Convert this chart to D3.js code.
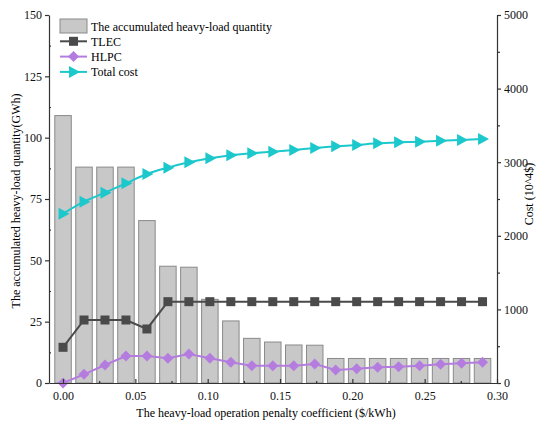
<!DOCTYPE html>
<html>
<head>
<meta charset="utf-8">
<script src="https://cdn.jsdelivr.net/npm/d3@7"></script>
<style>
  body { margin: 0; background: #fff; }
  text { font-family: "Liberation Serif", "Times New Roman", serif; }
</style>
</head>
<body>
<div id="chart"></div>
<script>
var width = 540
var height = 424

// penalty coefficient ($/kWh) of each case
var coef = [0, 0.0145, 0.029, 0.0435, 0.058, 0.0725, 0.087, 0.1015, 0.116, 0.1305, 0.145,
            0.1595, 0.174, 0.1885, 0.203, 0.2175, 0.232, 0.2465, 0.261, 0.2755, 0.29]
// accumulated heavy-load quantity (GWh)
var heavyLoad = [109, 88, 88, 88, 66.2, 47.6, 47.2, 34.1, 25.3, 18.2, 16.7,
                 15.5, 15.4, 10, 10, 10, 10, 10, 10, 10, 10]
// costs (10^4$)
var tlec = [485, 856, 856, 856, 734, 1105, 1105, 1105, 1105, 1105, 1105,
            1105, 1105, 1105, 1105, 1105, 1105, 1105, 1105, 1105, 1105]
var hlpc = [0, 118, 245, 367, 367, 335, 394, 335, 281, 236, 236,
            236, 258, 177, 195, 213, 222, 236, 254, 267, 281]
var totalCost = [2300, 2464, 2586, 2713, 2840, 2926, 2998, 3053, 3094, 3121, 3143,
                 3166, 3193, 3216, 3234, 3257, 3270, 3279, 3292, 3302, 3315]

var xTicks = [0, 0.05, 0.10, 0.15, 0.20, 0.25, 0.30]
var leftTicks = [0, 25, 50, 75, 100, 125, 150]
var rightTicks = [0, 1000, 2000, 3000, 4000, 5000]

var margin = {top: 15, right: 43, bottom: 41, left: 49}
var innerWidth = width - margin.left - margin.right
var innerHeight = height - margin.top - margin.bottom

var svg = d3.select("#chart")
  .append("svg")
    .attr("width", width)
    .attr("height", height)

var g = svg.append("g")
  .attr("transform", `translate(${margin.left},${margin.top})`)

var xScale = d3.scaleLinear()
  .domain([-0.0097, 0.30])
  .range([0, innerWidth])

var yLeft = d3.scaleLinear().domain([0, 150]).range([innerHeight, 0])
var yRight = d3.scaleLinear().domain([0, 5000]).range([innerHeight, 0])

var barW = 16.5

// bars
g.selectAll("rect.bar").data(heavyLoad)
  .enter().append("rect")
    .attr("class", "bar")
    .attr("x", (d, i) => xScale(coef[i]) - barW / 2)
    .attr("y", d => yLeft(d))
    .attr("width", barW)
    .attr("height", d => innerHeight - yLeft(d))
    .attr("fill", "#c8c8c8")
    .attr("stroke", "#8a8a8a")
    .attr("stroke-width", 1)

var series = [
  {name: "TLEC", values: tlec, color: "#4a4a4a", shape: "square"},
  {name: "HLPC", values: hlpc, color: "#b57ce0", shape: "diamond"},
  {name: "Total cost", values: totalCost, color: "#1cc8cc", shape: "triangle"}
]

function marker(sel, shape, color) {
  if (shape === "square") {
    sel.append("rect").attr("x", -4.5).attr("y", -4.5).attr("width", 9).attr("height", 9)
      .attr("fill", color)
  } else if (shape === "diamond") {
    sel.append("path").attr("d", "M0,-5.5L5.5,0L0,5.5L-5.5,0Z").attr("fill", color)
  } else {
    sel.append("path").attr("d", "M-4.5,-6L6.5,0L-4.5,6Z").attr("fill", color)
  }
}

var line = d3.line()

series.forEach(s => {
  var pts = s.values.map((v, i) => [xScale(coef[i]), yRight(v)])
  g.append("path")
    .attr("d", line.curve(s.shape === "triangle" ? d3.curveMonotoneX : d3.curveLinear)(pts))
    .attr("fill", "none")
    .attr("stroke", s.color)
    .attr("stroke-width", 2)
  pts.forEach(p => {
    marker(g.append("g").attr("transform", `translate(${p[0]},${p[1]})`), s.shape, s.color)
  })
})

// axes
var axisColor = "#333"
var xAxis = g.append("g").attr("transform", `translate(0,${innerHeight})`)
  .call(d3.axisBottom(xScale).tickValues(xTicks).tickFormat(d3.format(".2f")).tickSizeInner(-4).tickSizeOuter(0).tickPadding(8))
var xMinor = g.append("g").attr("transform", `translate(0,${innerHeight})`)
  .call(d3.axisBottom(xScale).tickValues([0.025, 0.075, 0.125, 0.175, 0.225, 0.275]).tickFormat("").tickSizeInner(-2).tickSizeOuter(0))

var leftAxis = g.append("g")
  .call(d3.axisLeft(yLeft).tickValues(leftTicks).tickFormat(d3.format("d")).tickSizeInner(4).tickSizeOuter(0).tickPadding(3))
var leftMinor = g.append("g")
  .call(d3.axisLeft(yLeft).tickValues([12.5, 37.5, 62.5, 87.5, 112.5, 137.5]).tickFormat("").tickSizeInner(-2).tickSizeOuter(0))

var rightAxis = g.append("g").attr("transform", `translate(${innerWidth},0)`)
  .call(d3.axisRight(yRight).tickValues(rightTicks).tickFormat(d3.format("d")).tickSizeInner(4).tickSizeOuter(0).tickPadding(3))
var rightMinor = g.append("g").attr("transform", `translate(${innerWidth},0)`)
  .call(d3.axisRight(yRight).tickValues([500, 1500, 2500, 3500, 4500]).tickFormat("").tickSizeInner(3).tickSizeOuter(0))

// minor tick axes: keep only the tick lines
;[xMinor, leftMinor, rightMinor].forEach(a => {
  a.select(".domain").remove()
  a.selectAll("text").remove()
})

;[xAxis, xMinor, leftAxis, leftMinor, rightAxis, rightMinor].forEach(a => {
  a.attr("font-family", '"Liberation Serif", serif').attr("font-size", 12)
  a.selectAll("path, line").attr("stroke", axisColor).attr("stroke-width", 1.2)
  a.selectAll("text").attr("fill", "#111")
})
xAxis.selectAll("text").attr("dy", "0.71em")

// axis titles
svg.append("text")
  .attr("x", margin.left + innerWidth / 2 - 7)
  .attr("y", 417)
  .attr("text-anchor", "middle")
  .style("font-size", "12px")
  .text("The heavy-load operation penalty coefficient ($/kWh)")

svg.append("text")
  .attr("transform", `translate(20,${margin.top + innerHeight / 2 + 2}) rotate(-90)`)
  .attr("text-anchor", "middle")
  .style("font-size", "12px")
  .text("The accumulated heavy-load quantity(GWh)")

svg.append("text")
  .attr("transform", `translate(533,${margin.top + innerHeight / 2 - 5}) rotate(-90)`)
  .attr("text-anchor", "middle")
  .style("font-size", "12px")
  .text("Cost (10^4$)")

// legend
var legend = svg.append("g").attr("transform", "translate(60,26)")
legend.append("rect")
  .attr("x", 0).attr("y", -7).attr("width", 27).attr("height", 14)
  .attr("fill", "#c8c8c8").attr("stroke", "#8a8a8a")
legend.append("text").attr("x", 31).attr("y", 4.5).style("font-size", "12px")
  .text("The accumulated heavy-load quantity")

series.forEach((s, i) => {
  var row = legend.append("g").attr("transform", `translate(0,${(i + 1) * 15.3})`)
  row.append("line").attr("x1", 0).attr("x2", 27).attr("stroke", s.color).attr("stroke-width", 2)
  marker(row.append("g").attr("transform", "translate(13.5,0)"), s.shape, s.color)
  row.append("text").attr("x", 31).attr("y", 4.5).style("font-size", "12px").text(s.name)
})
</script>
</body>
</html>
